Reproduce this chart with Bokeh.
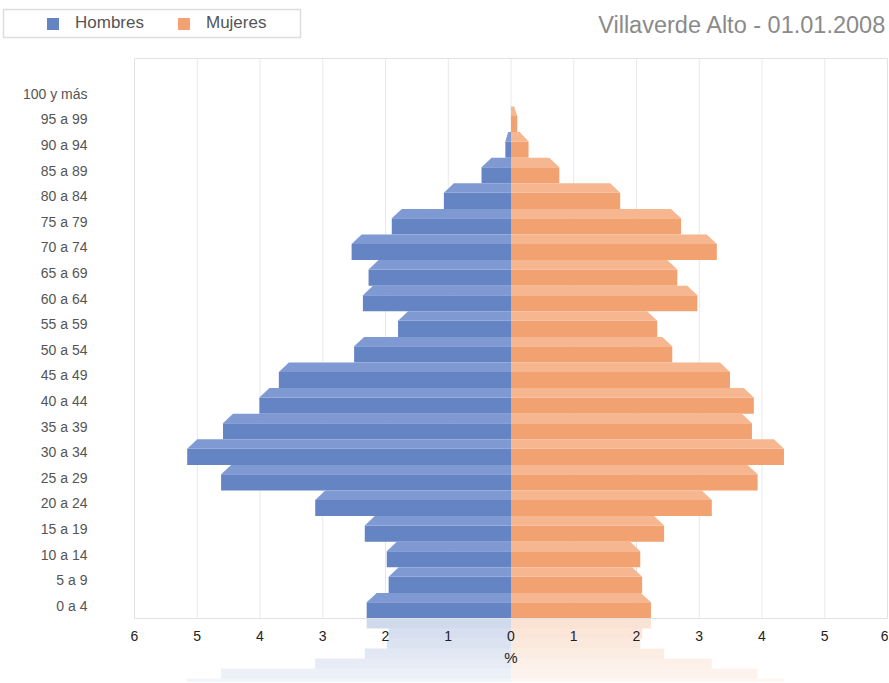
from bokeh.plotting import figure
from bokeh.models import (LinearAxis, FixedTicker, CustomJSTickFormatter, Legend,
                          LegendItem, Label)
from bokeh.embed import file_html
from bokeh.resources import INLINE

# ---------------- data ----------------
age_groups = ["0 a 4", "5 a 9", "10 a 14", "15 a 19", "20 a 24", "25 a 29", "30 a 34",
              "35 a 39", "40 a 44", "45 a 49", "50 a 54", "55 a 59", "60 a 64", "65 a 69",
              "70 a 74", "75 a 79", "80 a 84", "85 a 89", "90 a 94", "95 a 99", "100 y más"]
hombres = [2.30, 1.95, 1.98, 2.33, 3.12, 4.62, 5.16, 4.59, 4.01, 3.70, 2.50, 1.80,
           2.36, 2.27, 2.54, 1.90, 1.07, 0.47, 0.09, 0.0, 0.0]
mujeres = [2.23, 2.09, 2.06, 2.44, 3.20, 3.93, 4.35, 3.84, 3.87, 3.49, 2.57, 2.33,
           2.97, 2.65, 3.28, 2.71, 1.74, 0.77, 0.28, 0.10, 0.0]
x_ticks = list(range(-6, 7))
title_text = "Villaverde Alto - 01.01.2008"

# ---------------- layout ----------------
W, H = 888, 682
X0, UX = 510.5, 62.75     # pixel of x=0, px per unit
Y0, UY = 618.0, 25.6      # pixel of y=-0.5, px per row


def px2x(px):
    return (px - X0) / UX


def px2y(py):
    return -0.5 + (Y0 - py) / UY


BLUE, BLUE_L = "#6584c3", "#7f9ad3"
ORANGE, ORANGE_L = "#f2a171", "#f6b690"
FONT = "Liberation Sans"
LF = 0.37   # light top strip fraction
BEV = 0.16  # bevel width

p = figure(width=W, height=H, x_range=(px2x(0), px2x(W)), y_range=(px2y(H), px2y(0)),
           output_backend="svg", toolbar_location=None,
           x_axis_location=None, y_axis_location=None, min_border=0,
           outline_line_color=None, background_fill_color="white",
           border_fill_color="white")
for g in p.grid:
    g.visible = False

top_y = px2y(58)

# grid lines
p.segment(x0=x_ticks, y0=[-0.5] * len(x_ticks), x1=x_ticks, y1=[top_y] * len(x_ticks),
          line_color="#e8e8e8", line_width=1)

n = len(age_groups)
idx = list(range(n))

# reflection below the axis
nr = 7
rh = 10.0 / UY
ry = [-0.5 - (i + 0.5) * rh for i in range(nr)]
ralpha = [0.30 - 0.035 * i for i in range(nr)]
p.hbar(y=ry, height=rh, left=[-v for v in hombres[:nr]], right=0,
       fill_color=BLUE, fill_alpha=ralpha, line_color=None)
p.hbar(y=ry, height=rh, left=0, right=mujeres[:nr],
       fill_color=ORANGE, fill_alpha=ralpha, line_color=None)

# main bars: dark lower part
dark_h = 1 - LF
dark_y = [i - 0.5 + dark_h / 2 for i in idx]
r_m = p.hbar(y=dark_y, height=dark_h, left=[-v for v in hombres], right=0,
             fill_color=BLUE, line_color=None)
r_f = p.hbar(y=dark_y, height=dark_h, left=0, right=mujeres,
             fill_color=ORANGE, line_color=None)

# light top faces with bevelled tips
mxs, mys, fxs, fys = [], [], [], []
for i in idx:
    top = i + 0.5
    mid = top - LF
    m, f = hombres[i], mujeres[i]
    if m > 0:
        d = min(BEV, m * 0.5)
        mxs.append([0, -(m - d), -m, 0])
        mys.append([top, top, mid, mid])
    if f > 0:
        d = min(BEV, f * 0.5)
        fxs.append([0, f - d, f, 0])
        fys.append([top, top, mid, mid])
p.patches(xs=mxs, ys=mys, fill_color=BLUE_L, line_color=None)
p.patches(xs=fxs, ys=fys, fill_color=ORANGE_L, line_color=None)

# plot border
p.quad(left=[-6], right=[6], bottom=[-0.5], top=[top_y], fill_color=None,
       line_color="#e2e2e2", line_width=1)

# axes
yaxis = LinearAxis(fixed_location=-6, ticker=FixedTicker(ticks=idx),
                   major_label_overrides={i: lab for i, lab in enumerate(age_groups)})
yaxis.axis_line_color = None
yaxis.major_tick_line_color = None
yaxis.minor_tick_line_color = None
yaxis.major_label_standoff = 41
yaxis.major_label_text_font = FONT
yaxis.major_label_text_font_size = "14px"
yaxis.major_label_text_color = "#555555"
p.add_layout(yaxis, "left")

xaxis = LinearAxis(fixed_location=-0.5, bounds=(-6, 6), ticker=FixedTicker(ticks=x_ticks),
                   formatter=CustomJSTickFormatter(code="return Math.abs(tick).toString()"),
                   axis_label="%")
xaxis.axis_line_color = None
xaxis.major_tick_line_color = None
xaxis.minor_tick_line_color = None
xaxis.major_label_standoff = 6
xaxis.major_label_text_font = FONT
xaxis.major_label_text_font_size = "14px"
xaxis.major_label_text_color = "#222222"
xaxis.axis_label_standoff = 5
xaxis.axis_label_text_font = FONT
xaxis.axis_label_text_font_size = "15px"
xaxis.axis_label_text_font_style = "normal"
xaxis.axis_label_text_color = "#222222"
p.add_layout(xaxis, "below")

# legend box
p.quad(left=[px2x(3)], right=[px2x(300)], bottom=[px2y(37)], top=[px2y(9)],
       fill_color=None, line_color="#dddddd", line_width=1.5)
legend = Legend(items=[LegendItem(label="Hombres", renderers=[r_m]),
                       LegendItem(label="Mujeres", renderers=[r_f])],
                orientation="horizontal", location=(41, H - 37), padding=4, margin=0,
                spacing=32, glyph_width=15, glyph_height=15, label_standoff=15,
                label_height=20, label_text_font=FONT, label_text_font_size="17px",
                label_text_color="#555555", background_fill_alpha=0,
                border_line_alpha=0)
p.add_layout(legend)

p.add_layout(Label(x=px2x(886), y=px2y(24), text=title_text, text_align="right",
                   text_baseline="middle", text_font=FONT, text_font_size="23.5px",
                   text_color="#8a8a8a"))

open("out.html", "w").write(file_html(p, INLINE))
